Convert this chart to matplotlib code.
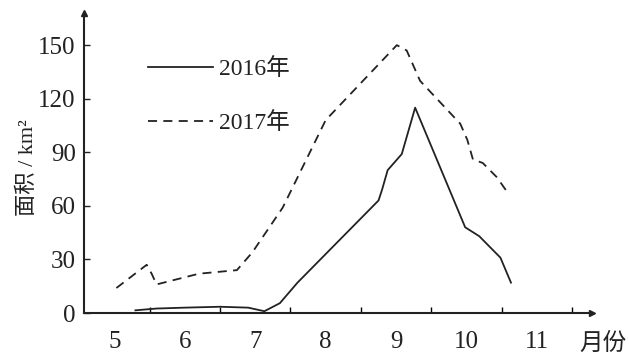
import matplotlib.pyplot as plt

plt.rcParams['font.family'] = ['Liberation Serif', 'Noto Sans CJK SC']

# values (month, area km^2)
months_2016 = [5.3, 5.6, 6.0, 6.5, 6.9, 7.13, 7.35, 7.6, 8.2, 8.75, 8.8, 8.88, 9.08, 9.27, 9.98, 10.18, 10.48, 10.63]
area_2016 = [1.5, 2.5, 3, 3.5, 3, 1, 5.5, 17, 41, 63, 69, 80, 89, 115, 48, 43, 31, 17]

months_2017 = [5.03, 5.46, 5.53, 5.6, 6.2, 6.74, 6.96, 7.39, 8.0, 9.01, 9.15, 9.34, 9.91, 10.01, 10.09, 10.23, 10.43, 10.59]
area_2017 = [14, 27, 22, 16, 22, 24, 34, 59, 108, 150, 147, 130, 106, 97, 86, 84, 76, 67]

month_labels = [5, 6, 7, 8, 9, 10, 11]
y_ticks = [0, 30, 60, 90, 120, 150]
ink = '#222222'

fig = plt.figure(figsize=(6.29, 3.54), dpi=100)
ax = fig.add_axes([84 / 629, 1 - 313 / 354, (592 - 84) / 629, 300 / 354])

ax.plot(months_2016, area_2016, color=ink, lw=1.3, label='2016年')
ax.plot(months_2017, area_2017, color=ink, lw=1.3, dashes=(5, 3.5), label='2017年')

ax.set_xlim(4.57, 11.78)
ax.set_ylim(0, 168)

for s in ['top', 'right']:
    ax.spines[s].set_visible(False)
for s in ['left', 'bottom']:
    ax.spines[s].set_linewidth(1.5)
    ax.spines[s].set_color(ink)

# arrow heads on the axes
ax.plot(1, 0, '>', color=ink, ms=5, transform=ax.transAxes, clip_on=False)
ax.plot(0, 1, '^', color=ink, ms=5, transform=ax.transAxes, clip_on=False)

ax.set_yticks(y_ticks)
ax.tick_params(axis='y', direction='in', length=4, width=1, pad=6,
               labelsize=18, colors=ink)

# tick marks between months, labels at month centres
ax.set_xticks([m + 0.5 for m in month_labels])
ax.set_xticklabels([])
ax.set_xticks(month_labels, minor=True)
ax.set_xticklabels([str(m) for m in month_labels], minor=True)
ax.tick_params(axis='x', which='major', direction='in', length=4, width=1)
ax.tick_params(axis='x', which='minor', length=0, pad=13, labelsize=18, colors=ink)

ax.text(11.93, -11, '月份', fontsize=17, ha='center', va='top', color=ink, clip_on=False)
fig.text(28 / 629, 1 - 168 / 354, '面积 / km²', rotation=90, ha='center', va='center',
         fontsize=16, color=ink)

ax.legend(loc='upper left', bbox_to_anchor=(0.085, 0.92), frameon=False, fontsize=17,
          handlelength=2.75, handletextpad=0.25, labelspacing=1.35, labelcolor=ink)

fig.savefig('out.png', dpi=100)
